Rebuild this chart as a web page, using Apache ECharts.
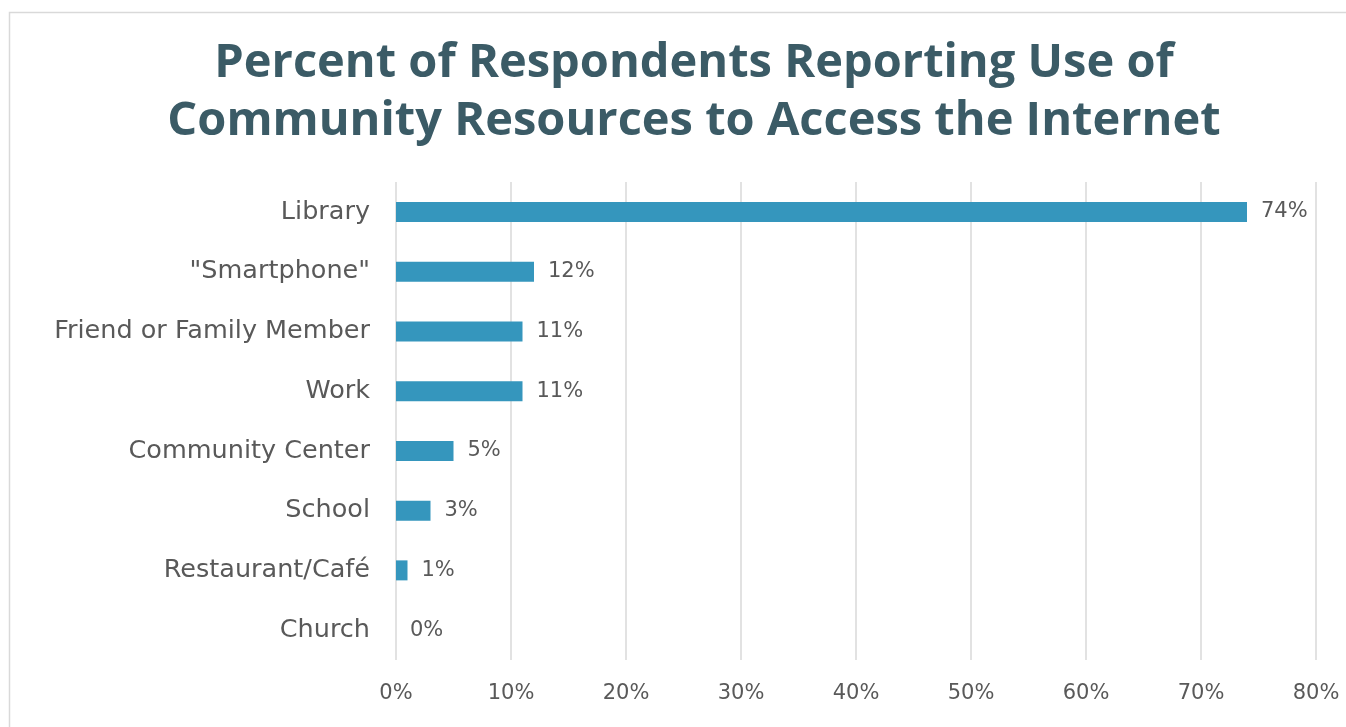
<!DOCTYPE html>
<html>
<head>
<meta charset="utf-8">
<script src="https://cdn.jsdelivr.net/npm/echarts@6/dist/echarts.min.js"></script>
<style>
  html, body { margin: 0; padding: 0; background: #ffffff; }
  #chart { width: 1346px; height: 727px; }
</style>
</head>
<body>
<div id="chart"></div>
<script>
// Survey answers, listed top to bottom
const categories = ["Library", "\"Smartphone\"", "Friend or Family Member", "Work",
                    "Community Center", "School", "Restaurant/Café", "Church"];
const percents = [74, 12, 11, 11, 5, 3, 1, 0];
const tickValues = [0, 10, 20, 30, 40, 50, 60, 70, 80];
const titleLines = ["Percent of Respondents Reporting Use of",
                    "Community Resources to Access the Internet"];

const chart = echarts.init(document.getElementById('chart'), null, { renderer: 'canvas' });

const titleFont = '"Open Sans"';
const labelFont = '"DejaVu Sans"';
const textGrey = '#595959';

chart.setOption({
  animation: false,
  backgroundColor: '#ffffff',
  graphic: [
    {
      type: 'rect',
      shape: { x: 9.5, y: 12.5, width: 1400, height: 800 },
      style: { fill: 'none', stroke: '#d9d9d9', lineWidth: 1.5 },
      silent: true
    },
    {
      type: 'text',
      x: 694, y: 35,
      style: {
        text: titleLines.join('\n'),
        align: 'center',
        verticalAlign: 'top',
        fontFamily: titleFont,
        fontWeight: 'bold',
        fontSize: 47,
        lineHeight: 58,
        fill: '#3b5b66'
      }
    }
  ],
  grid: { left: 396, right: 30, top: 182, bottom: 67, containLabel: false },
  xAxis: {
    type: 'value',
    min: tickValues[0],
    max: tickValues[tickValues.length - 1],
    interval: 10,
    axisLine: { show: false },
    axisTick: { show: false },
    splitLine: { show: true, lineStyle: { color: '#d9d9d9', width: 1.5 } },
    axisLabel: {
      formatter: v => v + '%',
      color: textGrey,
      fontFamily: labelFont,
      fontSize: 21,
      margin: 23
    }
  },
  yAxis: {
    type: 'category',
    data: categories,
    inverse: true,
    axisLine: { show: false },
    axisTick: { show: false },
    axisLabel: {
      color: textGrey,
      fontFamily: labelFont,
      fontSize: 25.5,
      margin: 26
    }
  },
  series: [{
    type: 'bar',
    data: percents,
    barWidth: 20,
    itemStyle: { color: '#3596bd' },
    label: {
      show: true,
      position: 'right',
      distance: 14,
      formatter: p => p.value + '%',
      color: textGrey,
      fontFamily: labelFont,
      fontSize: 21
    }
  }]
});
</script>
</body>
</html>
